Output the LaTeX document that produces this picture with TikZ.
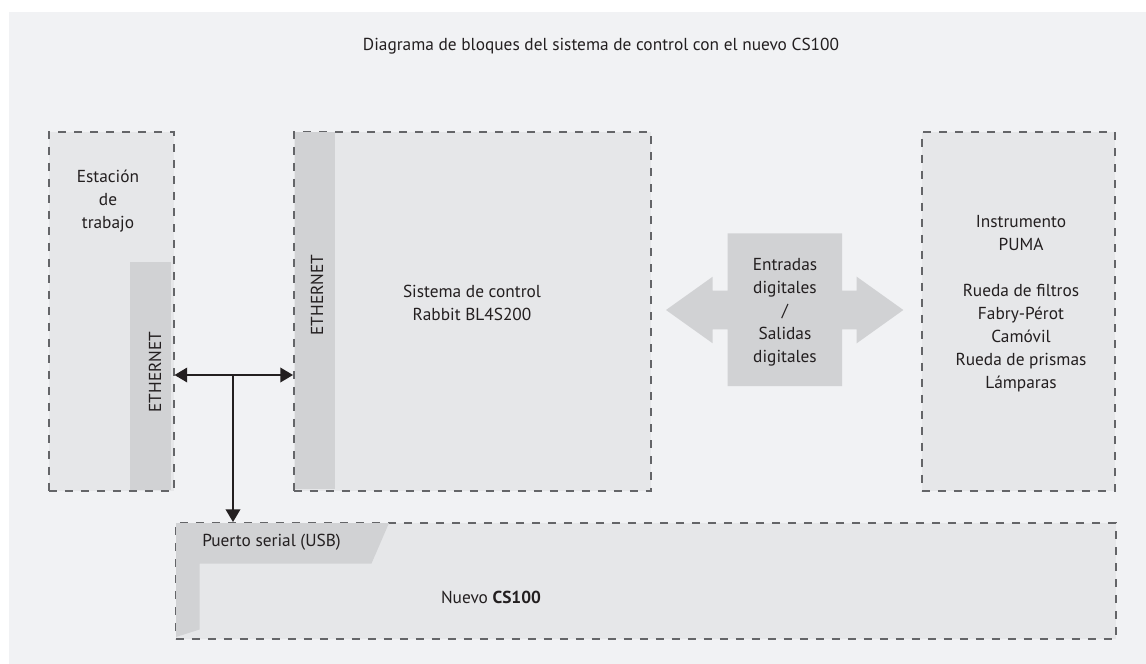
\documentclass[tikz,border=0pt]{standalone}
\usepackage{fontspec}
\setmainfont{PT Sans}
\usetikzlibrary{arrows.meta}
\definecolor{panel}{HTML}{F1F2F4}
\definecolor{boxfill}{HTML}{E6E7E9}
\definecolor{barfill}{HTML}{D1D2D4}
\definecolor{edge}{HTML}{646568}
\definecolor{ink}{HTML}{231F20}
\tikzset{
  blockbox/.style={draw=edge, fill=boxfill, dash pattern=on 6pt off 6pt, line width=1.15pt,
    inner sep=0pt, anchor=north west},
  barbox/.style={fill=barfill, inner sep=0pt, anchor=north west},
  lbl/.style={text=ink, font=\fontsize{13}{17.25}\selectfont, align=center, inner sep=0pt},
  conn/.style={draw=ink, line width=1.1pt, {Triangle[length=9.5pt,width=11pt]}-{Triangle[length=9.5pt,width=11pt]}},
  connone/.style={draw=ink, line width=1.1pt, -{Triangle[length=9.5pt,width=11pt]}},
}
\begin{document}
\begin{tikzpicture}[x=0.75pt, y=-0.75pt]
\useasboundingbox (0,0) rectangle (1146,664);
\fill[panel] (9,12) rectangle (1146,664);

% title
\node[lbl] (title) at (601,46) {Diagrama de bloques del sistema de control con el nuevo CS100};

% work station
\node[blockbox, minimum width=93.75pt, minimum height=269.25pt] (est) at (48,131) {};
\node[barbox, minimum width=30.5pt, minimum height=171pt] (estbar) at (130,262) {};
\node[lbl] (esttxt) at (108,201) {Estación\\de\\trabajo};
\node[lbl, rotate=90] (esteth) at (155,372) {ETHERNET};

% control system
\node[blockbox, minimum width=267.75pt, minimum height=269.25pt] (sis) at (293,131) {};
\node[barbox, minimum width=30.5pt, minimum height=267.75pt] (sisbar) at (294.5,131.5) {};
\node[lbl, rotate=90] (siseth) at (317,295) {ETHERNET};
\node[lbl] (sistxt) at (472,303) {Sistema de control\\Rabbit BL4S200};

% instrument
\node[blockbox, minimum width=144.75pt, minimum height=269.25pt] (ins) at (921,131) {};
\node[lbl] (instxt) at (1021,304) {Instrumento\\PUMA\\[17.25pt]Rueda de filtros\\Fabry-Pérot\\Camóvil\\Rueda de prismas\\Lámparas};

% new CS100
\node[blockbox, minimum width=705pt, minimum height=87pt] (cs) at (175,522) {};
\fill[barfill] (176,523) -- (389,523) -- (371.5,563.5) -- (199.5,563.5) -- (199.5,629.5) -- (176,637) -- cycle;
\node[lbl, anchor=west] (port) at (202,542) {Puerto serial (USB)};
\node[lbl] (cstxt) at (491,597) {Nuevo \textbf{CS100}};

% digital I/O double arrow
\fill[barfill] (666,310) -- (712.7,276.7) -- (712.7,290.7) -- (727.7,290.7) -- (727.7,233.3)
  -- (842,233.3) -- (842,290.7) -- (856.7,290.7) -- (856.7,276.7) -- (903.3,310)
  -- (856.7,343.3) -- (856.7,329.3) -- (842,329.3) -- (842,386) -- (727.7,386)
  -- (727.7,329.3) -- (712.7,329.3) -- (712.7,343.3) -- cycle;
\node[lbl] (io) at (785,312) {Entradas\\digitales\\/\\Salidas\\digitales};

% ethernet links
\coordinate (junc) at (233,375);
\draw[conn] (est.east |- junc) -- (sis.west |- junc);
\draw[connone] (junc) -- (junc |- cs.north);
\end{tikzpicture}
\end{document}
